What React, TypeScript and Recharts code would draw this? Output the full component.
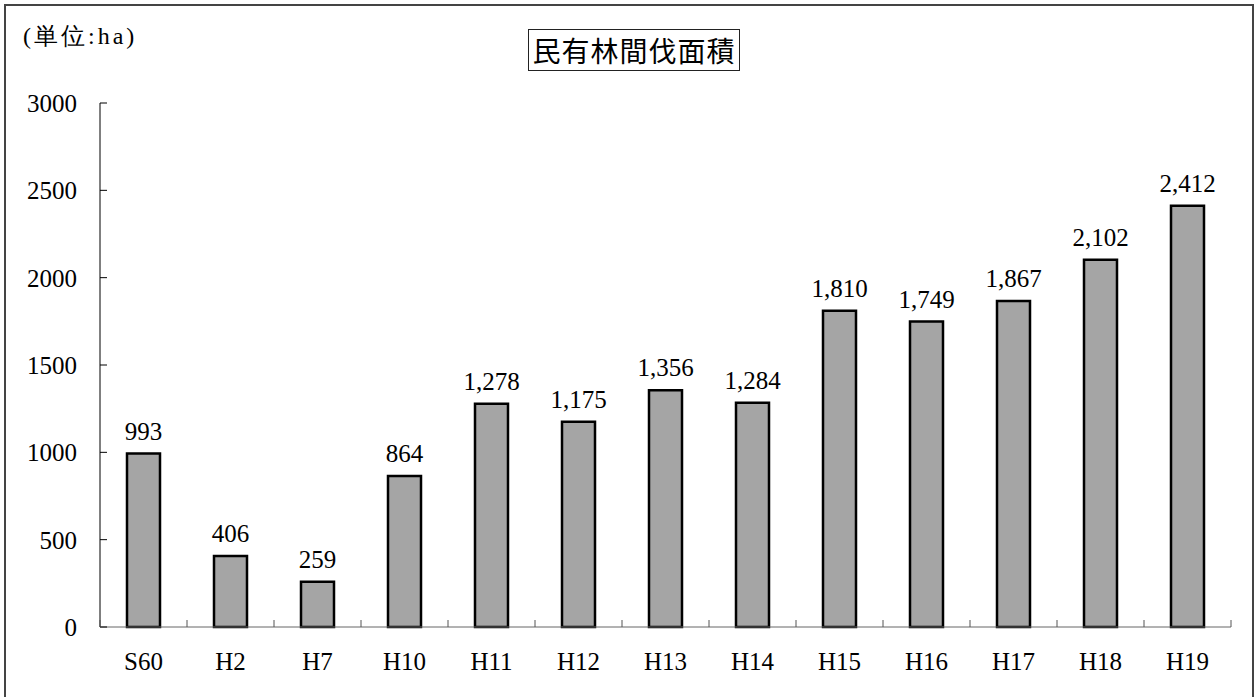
import React from "react";
import { BarChart, Bar, XAxis, YAxis, LabelList } from "recharts";

const categories = ["S60", "H2", "H7", "H10", "H11", "H12", "H13", "H14", "H15", "H16", "H17", "H18", "H19"];
const areaHa = [993, 406, 259, 864, 1278, 1175, 1356, 1284, 1810, 1749, 1867, 2102, 2412];
const yTicks = [0, 500, 1000, 1500, 2000, 2500, 3000];

const chartData = categories.map((c, i) => ({ year: c, area: areaHa[i] }));

const NUM_FONT = "Liberation Serif, DejaVu Serif, serif";
const JP_FONT = "Noto Sans CJK JP, sans-serif";

// category label + small upward ticks on the band edges
function CategoryTick(props: any) {
  const { x, y, payload } = props;
  const half = payload.offset || 0;
  const isLast = payload.value === categories[categories.length - 1];
  return (
    <g>
      <line x1={x - half} x2={x - half} y1={y} y2={y - 7} stroke="#555" strokeWidth={1} />
      {isLast && <line x1={x + half} x2={x + half} y1={y} y2={y - 7} stroke="#555" strokeWidth={1} />}
      <text x={x} y={y + 25} dy="0.71em" textAnchor="middle" fill="#000" fontSize={25} fontFamily={NUM_FONT}>
        {payload.value}
      </text>
    </g>
  );
}

export default function App() {
  return (
    <div style={{ position: "absolute", left: 0, top: 0, width: 1258, height: 697, background: "#fff", overflow: "hidden", fontFamily: NUM_FONT }}>
      <div
        style={{
          position: "absolute",
          left: 4,
          top: 4,
          width: 1250,
          height: 700,
          border: "2px solid #444",
          boxSizing: "border-box",
        }}
      />
      <div
        style={{
          position: "absolute",
          left: 23,
          top: 20,
          fontSize: 24,
          letterSpacing: 3,
          fontFamily: NUM_FONT,
          color: "#000",
          lineHeight: "32px",
        }}
      >
        (単位:ha)
      </div>
      <div
        style={{
          position: "absolute",
          left: 528,
          top: 29,
          width: 212,
          height: 42,
          border: "1px solid #222",
          boxSizing: "border-box",
          fontSize: 28,
          lineHeight: "40px",
          textAlign: "center",
          fontFamily: JP_FONT,
          color: "#000",
          letterSpacing: 1,
        }}
      >
        民有林間伐面積
      </div>
      <BarChart
        width={1258}
        height={697}
        data={chartData}
        margin={{ top: 103, right: 27, left: 0, bottom: 0 }}
        style={{ fontFamily: NUM_FONT }}
      >
        <XAxis
          dataKey="year"
          height={70}
          stroke="#666"
          tickLine={false}
          tickSize={0}
          tickMargin={0}
          tick={<CategoryTick />}
          interval={0}
        />
        <YAxis
          width={100}
          domain={[0, 3000]}
          ticks={yTicks}
          stroke="#000"
          tickSize={-7}
          tickMargin={30}
          tick={{ fill: "#000", fontSize: 25, fontFamily: NUM_FONT }}
        />
        <Bar dataKey="area" fill="#a5a5a5" stroke="#000" strokeWidth={2.5} barSize={33} isAnimationActive={false}>
          <LabelList
            dataKey="area"
            position="top"
            offset={14}
            fill="#000"
            fontSize={25}
            fontFamily={NUM_FONT}
            formatter={(v: any) => Number(v).toLocaleString("en-US")}
          />
        </Bar>
      </BarChart>
    </div>
  );
}
